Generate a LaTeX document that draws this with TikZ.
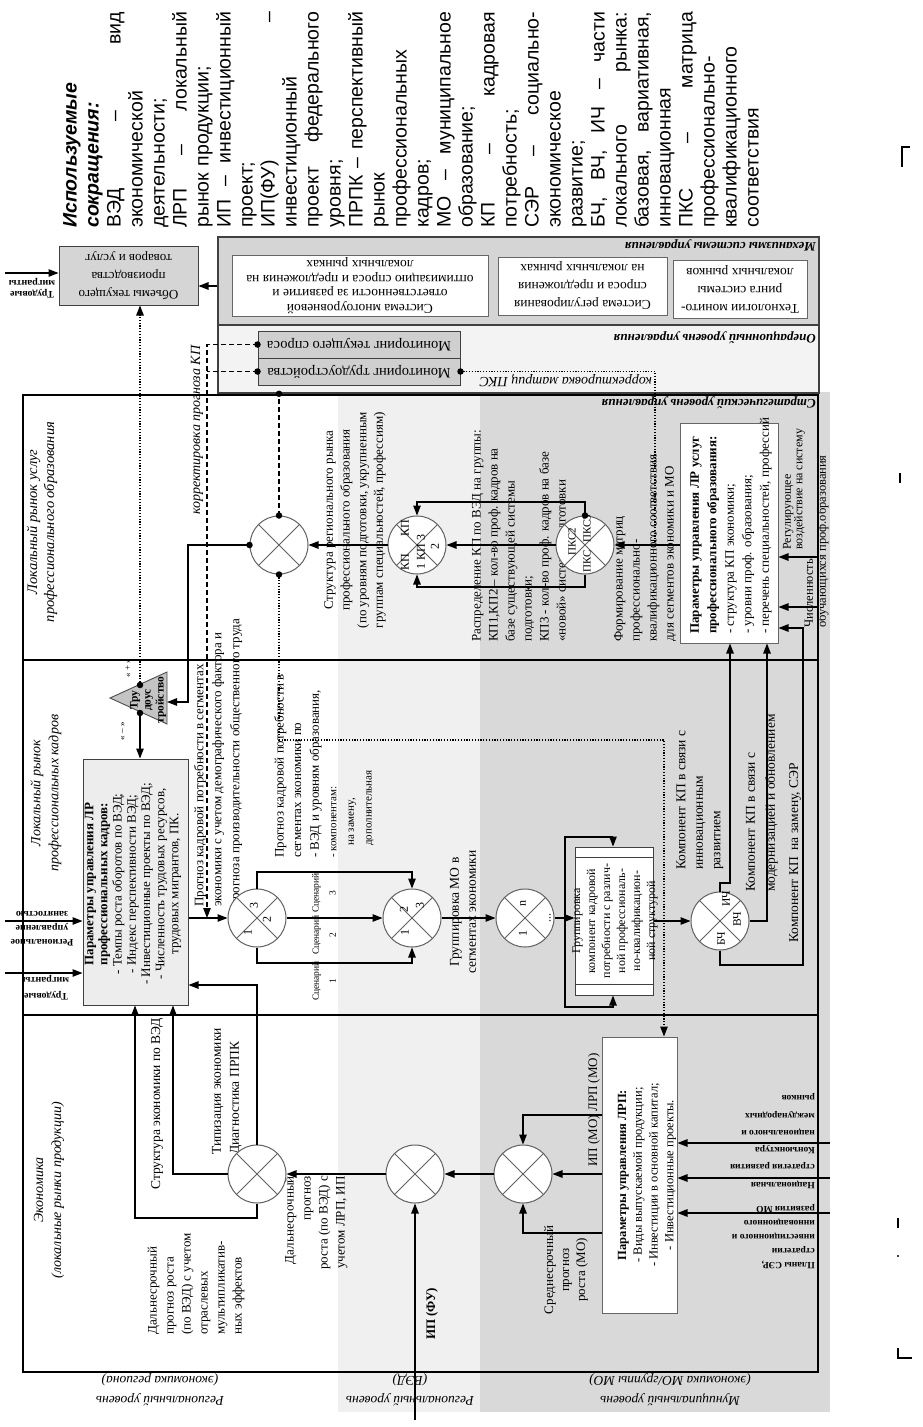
\documentclass[tikz,border=0pt]{standalone}
\usepackage{fontspec}
\setmainfont{Liberation Serif}
\newfontfamily\glossfont{Liberation Sans}
\usetikzlibrary{arrows.meta,calc}
\definecolor{bandA}{HTML}{F0F0F0}
\definecolor{bandB}{HTML}{D9D9D9}
\definecolor{mechC}{HTML}{D5D5D5}
\definecolor{opsC}{HTML}{F3F3F3}
\definecolor{monC}{HTML}{CFCFCF}
\definecolor{parKC}{HTML}{EDEDED}
\definecolor{triC}{HTML}{C4C4C4}
\definecolor{circC}{HTML}{606060}
\newcommand{\glsp}{\hskip 0.28em plus 1fill\relax}
\newcommand{\jline}[1]{\leavevmode\hbox to 216pt{#1}}
\begin{document}
\begin{tikzpicture}[x=1pt,y=-1pt,
  arr/.style={-{Triangle[length=10pt,width=7.5pt]}},
  conn/.style={line width=1.1pt},
  dsh/.style={dash pattern=on 5pt off 3pt},
  dtt/.style={dash pattern=on 1.2pt off 1.6pt},
  t/.style={inner sep=0pt, text=black, font=\fontsize{13}{17}\selectfont},
  r9/.style={t, rotate=90},
  r18/.style={t, rotate=180},
  crossc/.style={circle, draw=circC, line width=1pt, fill=white, minimum size=58pt, inner sep=0pt,
     path picture={\draw[circC, line width=0.9pt]
       (path picture bounding box.north west) -- (path picture bounding box.south east)
       (path picture bounding box.north east) -- (path picture bounding box.south west);}},
  bx/.style={draw=black!75, line width=1pt, inner sep=0pt},
  dotn/.style={circle, fill=black, inner sep=0pt, minimum size=6.5pt},
  frm/.style={line width=1.8pt},
  cmark/.style={line width=1.4pt},
]
\useasboundingbox (0,0) rectangle (923,1427);

% ---------- background bands ----------
\fill[bandA] (338,395) rectangle (480,1412);
\fill[bandB] (480,392) rectangle (830,1412);

% ---------- glossary ----------
\node[rotate=90, anchor=north west, inner sep=0pt, text width=216pt, align=left,
  font=\glossfont\fontsize{19.5}{22}\selectfont] (gloss) at (63,228) {%
\textbf{\textit{Используемые}}\\
\textbf{\textit{сокращения:}}\\
\jline{ВЭД\glsp –\glsp вид}\\
экономической\\
деятельности;\\
\jline{ЛРП\glsp –\glsp локальный}\\
рынок продукции;\\
\jline{ИП\glsp –\glsp инвестиционный}\\
проект;\\
\jline{ИП(ФУ)\glsp –}\\
инвестиционный\\
\jline{проект\glsp федерального}\\
уровня;\\
\jline{ПРПК\glsp –\glsp перспективный}\\
рынок\\
профессиональных\\
кадров;\\
\jline{МО\glsp –\glsp муниципальное}\\
образование;\\
\jline{КП\glsp –\glsp кадровая}\\
потребность;\\
\jline{СЭР\glsp –\glsp социально-}\\
экономическое\\
развитие;\\
\jline{БЧ,\glsp ВЧ,\glsp ИЧ\glsp –\glsp части}\\
\jline{локального\glsp рынка:}\\
\jline{базовая,\glsp вариативная,}\\
инновационная\\
\jline{ПКС\glsp –\glsp матрица}\\
профессионально-\\
квалификационного\\
соответствия};

% ---------- top boxes ----------
\node[bx, fill=mechC, minimum width=139pt, minimum height=59pt] (vol) at (128.5,275.5) {};
\node[r18, align=center, font=\fontsize{13}{18}\selectfont] (volt) at (vol.center) {Объемы текущего\\производства\\товаров и услуг};

\node[bx, fill=mechC, line width=1.6pt, minimum width=601pt, minimum height=88pt] (mech) at (518.5,281) {};
\node[bx, fill=opsC, line width=1.6pt, minimum width=601pt, minimum height=68pt] (ops) at (518.5,359) {};
\node[r18, anchor=west, font=\bfseries\itshape\fontsize{13}{15}\selectfont] (mechL) at (816,245) {Механизмы системы управления};
\node[r18, anchor=west, font=\bfseries\itshape\fontsize{13}{15}\selectfont] (opsL) at (816,338) {Операционный уровень управления};

\node[bx, draw=black!60, fill=white, minimum width=256pt, minimum height=61pt] (m1) at (360,285.5) {};
\node[bx, draw=black!60, fill=white, minimum width=169pt, minimum height=58pt] (m2) at (582.5,286) {};
\node[bx, draw=black!60, fill=white, minimum width=134pt, minimum height=58pt] (m3) at (740,289) {};
\node[r18, align=center, font=\fontsize{13.5}{14.5}\selectfont] (m1t) at (m1.center) {Система многоуровневой\\ответственности за развитие и\\оптимизацию спроса и предложения на\\локальных рынках};
\node[r18, align=center, font=\fontsize{13.5}{18}\selectfont] (m2t) at (m2.center) {Система регулирования\\спроса и предложения\\на локальных рынках};
\node[r18, align=center, font=\fontsize{13.5}{18}\selectfont] (m3t) at (m3.center) {Технологии монито-\\ринга системы\\локальных рынков};

\node[bx, fill=monC, minimum width=202pt, minimum height=27pt] (mon1) at (359,344.5) {};
\node[bx, fill=monC, minimum width=202pt, minimum height=27pt] (mon2) at (359,371.5) {};
\node[r18, font=\fontsize{14.5}{16}\selectfont] (mon1t) at (mon1.center) {Мониторинг текущего спроса};
\node[r18, font=\fontsize{14.5}{16}\selectfont] (mon2t) at (mon2.center) {Мониторинг трудоустройства};

\node[r18, align=center, font=\bfseries\fontsize{10}{11}\selectfont] (tmt) at (32,288) {Трудовые\\мигранты};
\node[r18, anchor=west, font=\itshape\fontsize{14}{16}\selectfont] (korPKS) at (652,381) {корректировка матриц ПКС};

% ---------- main frame ----------
\draw[frm] (23,395) rectangle (818,1372);
\draw[frm] (23,660) -- (818,660);
\draw[frm] (23,1015) -- (818,1015);
\node[r18, anchor=west, font=\bfseries\itshape\fontsize{13}{15}\selectfont] (strL) at (816,403) {Стратегический уровень управления};

% ---------- section labels ----------
\node[r9, align=center, font=\itshape\fontsize{14.5}{17}\selectfont] (secU) at (42,522) {Локальный рынок услуг\\профессионального образования};
\node[r9, align=center, font=\itshape\fontsize{14}{18}\selectfont] (secK) at (46,793) {Локальный рынок\\профессиональных кадров};
\node[r9, align=center, font=\itshape\fontsize{14}{18}\selectfont] (secE) at (49,1190) {Экономика\\(локальные рынки продукции)};

% ---------- boxes in frame ----------
\node[bx, fill=parKC, minimum width=105pt, minimum height=246pt] (parK) at (135.5,882) {};
\node[bx, draw=black!60, fill=white, minimum width=98pt, minimum height=220pt] (parU) at (729,533) {};
\node[bx, draw=black!75, fill=white, minimum width=78pt, minimum height=148pt] (grp) at (614,921) {};
\draw[black!75, line width=1pt] ($(grp.north west)+(0,11)$) -- ($(grp.north east)+(0,11)$);
\draw[black!75, line width=1pt] ($(grp.south west)+(0,-11)$) -- ($(grp.south east)+(0,-11)$);
\node[bx, draw=black!60, fill=white, minimum width=75pt, minimum height=276pt] (lrp) at (639.5,1175) {};
\draw[fill=triC, draw=black!70, line width=0.9pt] (110,698) -- (167,672) -- (167,724) -- cycle;

% ---------- texts ----------
\node[r9, anchor=west, font=\itshape\fontsize{14}{16}\selectfont] (korKP) at (197,515) {корректировка прогноза КП};
\node[r9, align=center, font=\fontsize{13}{16.7}\selectfont] (strRP) at (355,520) {Структура регионального рынка\\профессионального образования\\(по уровням подготовки, укрупненным\\группам специальностей, профессиям)};
\node[r9, anchor=west, align=left] (raspr) at (520,642) {Распределение КП по ВЭД на группы:\\КП1,КП2 – кол-во проф. кадров на\\базе существующей системы\\подготовки;\\КП3 - кол-во проф. кадров на базе\\«новой» системы подготовки};
\node[r9, anchor=west, align=left] (formir) at (645,642) {Формирование матриц\\профессионально-\\квалификационного соответствия\\для сегментов экономики и МО};
\node[r9, anchor=west, align=left, font=\fontsize{13}{17.5}\selectfont] (parUt) at (731,634) {\textbf{Параметры управления ЛР услуг}\\\textbf{профессионального образования:}\\- структура КП экономики;\\- уровни проф. образования;\\- перечень специальностей, профессий};
\node[r9, anchor=west, align=left, font=\fontsize{12}{11.5}\selectfont] (regul) at (794,550) {Регулирующее\\воздействие на систему};
\node[r9, anchor=west, align=left, font=\fontsize{12.5}{13}\selectfont] (chisl) at (816.5,628) {Численность\\обучающихся проф.образования};

\node[r9, align=center, font=\bfseries\fontsize{11.5}{13}\selectfont] (trit) at (148,700) {Тру\\доус\\тройство};
\node[r9, font=\fontsize{9}{10}\selectfont] (plus) at (128,668) {« + »};
\node[r9, font=\fontsize{9}{10}\selectfont] (minus) at (123,731) {« – »};
\node[r9, align=center, font=\fontsize{13}{14.2}\selectfont] (parKt) at (133,884) {\textbf{Параметры управления ЛР}\\\textbf{профессиональных кадров:}\\- Темпы роста оборотов по ВЭД;\\- Индекс перспективности ВЭД;\\- Инвестиционные проекты по ВЭД;\\- Численность трудовых ресурсов,\\трудовых мигрантов, ПК.};
\node[r18, align=center, font=\bfseries\fontsize{10}{14}\selectfont] (regZ) at (42,929) {Региональное\\управление\\занятостью};
\node[r18, align=center, font=\bfseries\fontsize{10}{16}\selectfont] (trM) at (46,988) {Трудовые\\мигранты};
\node[r9, anchor=west, align=left, font=\fontsize{13}{18}\selectfont] (progA) at (218,907) {Прогноз кадровой потребности в сегментах\\экономики с учетом демографического фактора и\\прогноза производительности общественного труда};
\node[r9, anchor=west, align=left, font=\fontsize{13}{17.6}\selectfont] (progB) at (324,858) {Прогноз кадровой потребности в\\сегментах экономики по\\- ВЭД и уровням образования,\\{\fontsize{11}{12}\selectfont - компонентам:}\\{\fontsize{11}{12}\selectfont\hspace*{12pt}на замену,}\\{\fontsize{11}{12}\selectfont\hspace*{12pt}дополнительная}};
\node[r9, align=center, font=\fontsize{9.5}{17}\selectfont] (sc3) at (324,893) {Сценарий\\3};
\node[r9, align=center, font=\fontsize{9.5}{17}\selectfont] (sc2) at (324,935) {Сценарий\\2};
\node[r9, align=center, font=\fontsize{9.5}{17}\selectfont] (sc1) at (324,981) {Сценарий\\1};
\node[r9, align=center, font=\fontsize{13.5}{17}\selectfont] (grpMO) at (463,912) {Группировка МО в\\сегментах экономики};
\node[r9, align=center, font=\fontsize{12}{15}\selectfont] (grpt) at (615,921) {Группировка\\компонент кадровой\\потребности с различ-\\ной профессиональ-\\но-квалификацион-\\ной структурой};
\node[r9, anchor=west, align=left, font=\fontsize{13.5}{17.5}\selectfont] (kp1) at (700,870) {Компонент КП в связи с\\инновационным\\развитием};
\node[r9, anchor=west, align=left, font=\fontsize{13.5}{20}\selectfont] (kp2) at (762,892) {Компонент КП в связи с\\модернизацией и обновлением};
\node[r9, anchor=west, font=\fontsize{13.5}{16}\selectfont] (kp3) at (795,943) {Компонент КП\ \ на замену, СЭР};

\node[r9, anchor=west, font=\fontsize{13.5}{16}\selectfont] (strV) at (157,1190) {Структура экономики по ВЭД};
\node[r9, anchor=west, align=left, font=\fontsize{13.5}{18}\selectfont] (tipiz) at (227,1155) {Типизация экономики\\Диагностика ПРПК};
\node[r9, anchor=west, align=left, font=\fontsize{13}{17}\selectfont] (dalA) at (196,1335) {Дальнесрочный\\прогноз роста\\(по ВЭД) с учетом\\отраслевых\\мультипликатив-\\ных эффектов};
\node[r9, anchor=east, align=right, font=\fontsize{13}{17}\selectfont] (dalB) at (316,1176) {Дальнесрочный\\прогноз\\роста (по ВЭД) с\\учетом ЛРП, ИП};
\node[r9, font=\bfseries\fontsize{13}{15}\selectfont] (ipfu) at (432,1314) {ИП (ФУ)};
\node[r9, font=\fontsize{13}{15}\selectfont] (ipmo) at (594,1110) {ИП (МО) ЛРП (МО)};
\node[r9, align=center, font=\fontsize{13}{16}\selectfont] (sred) at (566,1270) {Среднесрочный\\прогноз\\роста (МО)};
\node[r9, align=center, font=\fontsize{12.5}{15.7}\selectfont] (lrpt) at (647,1175) {\textbf{Параметры управления ЛРП:}\\- Виды выпускаемой продукции;\\- Инвестиции в основной капитал;\\- Инвестиционные проекты.};
\node[r18, anchor=west, align=left, font=\bfseries\fontsize{9.5}{17.3}\selectfont] (konj) at (815,1124) {Конъюнктура\\национального и\\международных\\рынков};
\node[r18, anchor=west, align=left, font=\bfseries\fontsize{9.5}{18}\selectfont] (nacs) at (815,1176) {Национальная\\стратегия развития};
\node[r18, anchor=west, align=left, font=\bfseries\fontsize{9.5}{14}\selectfont] (plany) at (815,1237) {Планы СЭР,\\стратегии\\инвестиционного и\\инновационного\\развития МО};

\node[r18, align=center, font=\itshape\fontsize{13.5}{20}\selectfont] (lvl1) at (160,1390) {Региональный уровень\\(экономика региона)};
\node[r18, align=center, font=\itshape\fontsize{13.5}{20}\selectfont] (lvl2) at (410,1390) {Региональный уровень\\(ВЭД)};
\node[r18, align=center, font=\itshape\fontsize{13.5}{20}\selectfont] (lvl3) at (670,1390) {Муниципальный уровень\\(экономика МО/группы МО)};

% ---------- circles ----------
\node[crossc] (cA) at (279,545) {};
\node[crossc] (cB) at (417,545) {};
\node[crossc] (cC) at (585,545) {};
\node[crossc] (cE) at (257,918) {};
\node[crossc] (cF) at (412,918) {};
\node[crossc] (cG) at (525,918) {};
\node[crossc] (cD) at (720,921) {};
\node[crossc] (cH) at (257,1174) {};
\node[crossc] (cI) at (415,1174) {};
\node[crossc] (cJ) at (523,1174) {};

\node[r9, font=\fontsize{12}{13}\selectfont] (bq1) at (405,562) {КП};
\node[r9, font=\fontsize{12}{13}\selectfont] (bq2) at (405,528) {КП};
\node[r9, font=\fontsize{12}{13}\selectfont] (bq3) at (421,552) {1 КП 3};
\node[r9, font=\fontsize{12}{13}\selectfont] (bq4) at (435,546) {2};
\node[r9, font=\fontsize{11}{12}\selectfont] (cq1) at (572,542) {ПКС2};
\node[r9, font=\fontsize{11}{12}\selectfont] (cq2) at (587,529) {ПКС3};
\node[r9, font=\fontsize{11}{12}\selectfont] (cq3) at (587,561) {ПКС};
\node[r9, font=\fontsize{12}{13}\selectfont] (eq3) at (254,905) {3};
\node[r9, font=\fontsize{12}{13}\selectfont] (eq2) at (267,919) {2};
\node[r9, font=\fontsize{12}{13}\selectfont] (eq1) at (248,932) {1};
\node[r9, font=\fontsize{12}{13}\selectfont] (fq2) at (404,909) {2};
\node[r9, font=\fontsize{12}{13}\selectfont] (fq3) at (420,905) {3};
\node[r9, font=\fontsize{12}{13}\selectfont] (fq1) at (405,932) {1};
\node[r9, font=\fontsize{12}{13}\selectfont] (gq1) at (523,903) {n};
\node[r9, font=\fontsize{12}{13}\selectfont] (gq2) at (523,933) {1};
\node[r9, font=\fontsize{12}{13}\selectfont] (gq3) at (550,918) {...};
\node[r9, font=\fontsize{11.5}{13}\selectfont] (dq1) at (726,899) {ИЧ};
\node[r9, font=\fontsize{11.5}{13}\selectfont] (dq2) at (737,919) {ВЧ};
\node[r9, font=\fontsize{11.5}{13}\selectfont] (dq3) at (721,939) {БЧ};

% ---------- coordinates ----------
\coordinate (y286) at (0,286);
\coordinate (tmA) at (5,273);
\coordinate (kx) at (207,0);
\coordinate (px) at (655,0);
\coordinate (jA) at (188,0);
\coordinate (triR) at (167,702);
\coordinate (triT) at (140,685);
\coordinate (triB) at (140,713);
\coordinate (dx) at (664,740);
\coordinate (ty) at (0,502);
\coordinate (by) at (0,587);
\coordinate (d1) at (730,883);
\coordinate (d2) at (767,0);
\coordinate (d3) at (803,965);
\coordinate (d3t) at (0,628);
\coordinate (f557) at (818,557);
\coordinate (f607) at (818,607);
\coordinate (gj) at (565,918);
\coordinate (g1) at (613,837);
\coordinate (g2) at (613,1007);
\coordinate (e1) at (0,872);
\coordinate (e2) at (0,963);
\coordinate (rz) at (5,921);
\coordinate (rm) at (5,973);
\coordinate (h1) at (135,1218);
\coordinate (h2) at (173,0);
\coordinate (h3) at (0,985);
\coordinate (iB) at (415,1420);
\coordinate (l1) at (0,1115);
\coordinate (l3) at (0,1233);
\coordinate (x1) at (830,1143);
\coordinate (x2) at (830,1178);
\coordinate (x3) at (830,1213);

% ---------- connectors ----------
\draw[conn,arr] (mech.west |- y286) -- (vol.east |- y286);
\draw[conn,arr] (tmA) -- (tmA -| vol.west);
\draw[conn,dtt,arr] (triT) -- (triT |- vol.south);
\draw[conn,dsh,arr] (mon1.west) -- (mon1.west -| kx) -- (kx |- cE.west);
\draw[conn,dsh] (mon2.west) -- (mon2.west -| kx);
\draw[conn,dtt] (mon2.east) -- (mon2.east -| px) -- (px |- cC.east);
\draw[conn,dsh] (cA.north) -- (cA.north |- ops.south);
\draw[conn,arr] (cA.west) -- (cA.west -| jA) -- (jA |- triR) -- (triR);
\draw[conn,dtt,arr] (cA.south) -- (cA.south |- dx) -- (dx) -- (dx |- lrp.north);
\draw[conn,arr] (triB) -- (triB |- parK.north);
\draw[conn,arr] (cB.west) -- (cA.east);
\draw[conn,arr] (cC.west) -- (cB.east);
\draw[conn,arr] (cC.north) -- (cC.north |- ty) -- (cB.north |- ty) -- (cB.north);
\draw[conn,arr] (cC.south) -- (cC.south |- by) -- (cB.south |- by) -- (cB.south);
\draw[conn,arr] (parU.west |- cC.east) -- (cC.east);
\draw[conn,arr] (cD.north) -- (cD.north |- d1) -- (d1) -- (d1 |- parU.south);
\draw[conn,arr] (cD.east) -- (cD.east -| d2) -- (d2 |- parU.south);
\draw[conn,arr] (cD.south) -- (cD.south |- d3) -- (d3) -- (d3 |- d3t) -- (parU.east |- d3t);
\draw[conn,arr] (f557) -- (f557 -| parU.east);
\draw[conn,arr] (f607) -- (f607 -| parU.east);
\draw[conn,arr] (grp.east |- cD.west) -- (cD.west);
\draw[conn,arr] (cG.east) -- (grp.west |- cG.east);
\draw[conn,arr] (gj) -- (gj |- g1) -- (g1) -- (g1 |- grp.north);
\draw[conn,arr] (gj) -- (gj |- g2) -- (g2) -- (g2 |- grp.south);
\draw[conn,arr] (cF.east) -- (cG.west);
\draw[conn,arr] (cE.north) -- (cE.north |- e1) -- (cF.north |- e1) -- (cF.north);
\draw[conn,arr] (cE.east) -- (cF.west);
\draw[conn,arr] (cE.south) -- (cE.south |- e2) -- (cF.south |- e2) -- (cF.south);
\draw[conn,arr] (parK.east |- cE.west) -- (cE.west);
\draw[conn,arr] (rz) -- (rz -| parK.west);
\draw[conn,arr] (rm) -- (rm -| parK.west);
\draw[conn,arr] (cH.south) -- (cH.south |- h1) -- (h1) -- (h1 |- parK.south);
\draw[conn,arr] (cH.west) -- (cH.west -| h2) -- (h2 |- parK.south);
\draw[conn,arr] (cH.north) -- (cH.north |- h3) -- (parK.east |- h3);
\draw[conn,arr] (cI.west) -- (cH.east);
\draw[conn,arr] (iB) -- (cI.south);
\draw[conn,arr] (cJ.west) -- (cI.east);
\draw[conn,arr] (lrp.west |- l1) -- (cJ.north |- l1) -- (cJ.north);
\draw[conn,arr] (lrp.west |- cJ.east) -- (cJ.east);
\draw[conn,arr] (lrp.west |- l3) -- (cJ.south |- l3) -- (cJ.south);
\draw[conn,arr] (x1) -- (x1 -| lrp.east);
\draw[conn,arr] (x2) -- (x2 -| lrp.east);
\draw[conn,arr] (x3) -- (x3 -| lrp.east);

% ---------- dots ----------
\node[dotn] (p1) at (mon1.west) {};
\node[dotn] (p2) at (mon2.west) {};
\node[dotn] (p3) at (mon2.east) {};
\node[dotn] (p4) at (cA.north) {};
\node[dotn] (p5) at (cA.north |- ops.south) {};
\node[dotn] (p6) at (cA.west) {};
\node[dotn] (p7) at (cA.south) {};
\node[dotn] (p8) at (cC.north) {};
\node[dotn] (p9) at (triT) {};
\node[dotn] (p10) at (triB) {};

% ---------- page marks ----------
\draw[cmark] (910,147) -- (902,147) -- (902,167);
\draw[cmark] (900,473) -- (900,483);
\draw[cmark] (898,1218) -- (898,1228);
\fill (898,1256) circle (1.2);
\draw[cmark] (898,1348) -- (898,1358) -- (912,1358);
\end{tikzpicture}
\end{document}
